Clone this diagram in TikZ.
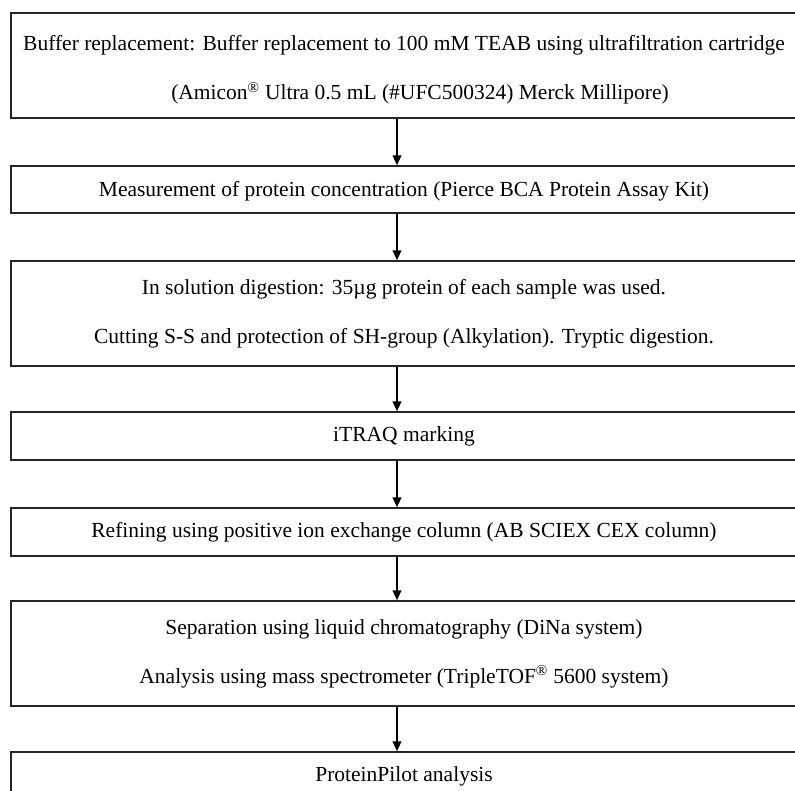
\documentclass[tikz,border=0pt]{standalone}
\usepackage{fontspec}
\setmainfont{Liberation Serif}
\usetikzlibrary{arrows.meta}
\tikzset{
  stepbox/.style={draw=black!85, line width=1.3pt, rectangle, inner sep=0pt,
    minimum width=786pt, align=center,
    font=\fontsize{21.5}{49}\selectfont},
  onebox/.style={stepbox, minimum height=48pt},
  twobox/.style={stepbox, minimum height=105pt},
  flow/.style={draw=black, line width=2.2pt, -{Triangle[width=8.5pt,length=10pt]}}
}
\begin{document}
\begin{tikzpicture}[x=1pt,y=-1pt]
\useasboundingbox (0,0) rectangle (795,791);
\clip (0,0) rectangle (795,791);
\fill[white] (0,0) rectangle (795,791);
\coordinate (ax) at (397,0);
\node[twobox, text height=73pt] (b1) at (404,65.5) {Buffer replacement: Buffer replacement to 100 mM TEAB using ultrafiltration cartridge\\\hspace*{32pt}(Amicon\textsuperscript{®} Ultra 0.5 mL (\#UFC500324) Merck Millipore)};
\node[onebox, minimum height=47pt, text height=19pt] (b2) at (404,189.5) {Measurement of protein concentration (Pierce BCA Protein Assay Kit)};
\node[twobox] (b3) at (404,313.5) {In solution digestion: 35µg protein of each sample was used.\\Cutting S-S and protection of SH-group (Alkylation). Tryptic digestion.};
\node[onebox] (b4) at (404,436) {iTRAQ marking};
\node[onebox] (b5) at (404,532) {Refining using positive ion exchange column (AB SCIEX CEX column)};
\node[twobox] (b6) at (404,653.5) {Separation using liquid chromatography (DiNa system)\\Analysis using mass spectrometer (TripleTOF\textsuperscript{®} 5600 system)};
\node[onebox] (b7) at (404,776) {ProteinPilot analysis};
\draw[flow] (b1.south -| ax) -- (b2.north -| ax);
\draw[flow] (b2.south -| ax) -- (b3.north -| ax);
\draw[flow] (b3.south -| ax) -- (b4.north -| ax);
\draw[flow] (b4.south -| ax) -- (b5.north -| ax);
\draw[flow] (b5.south -| ax) -- (b6.north -| ax);
\draw[flow] (b6.south -| ax) -- (b7.north -| ax);
\end{tikzpicture}
\end{document}
